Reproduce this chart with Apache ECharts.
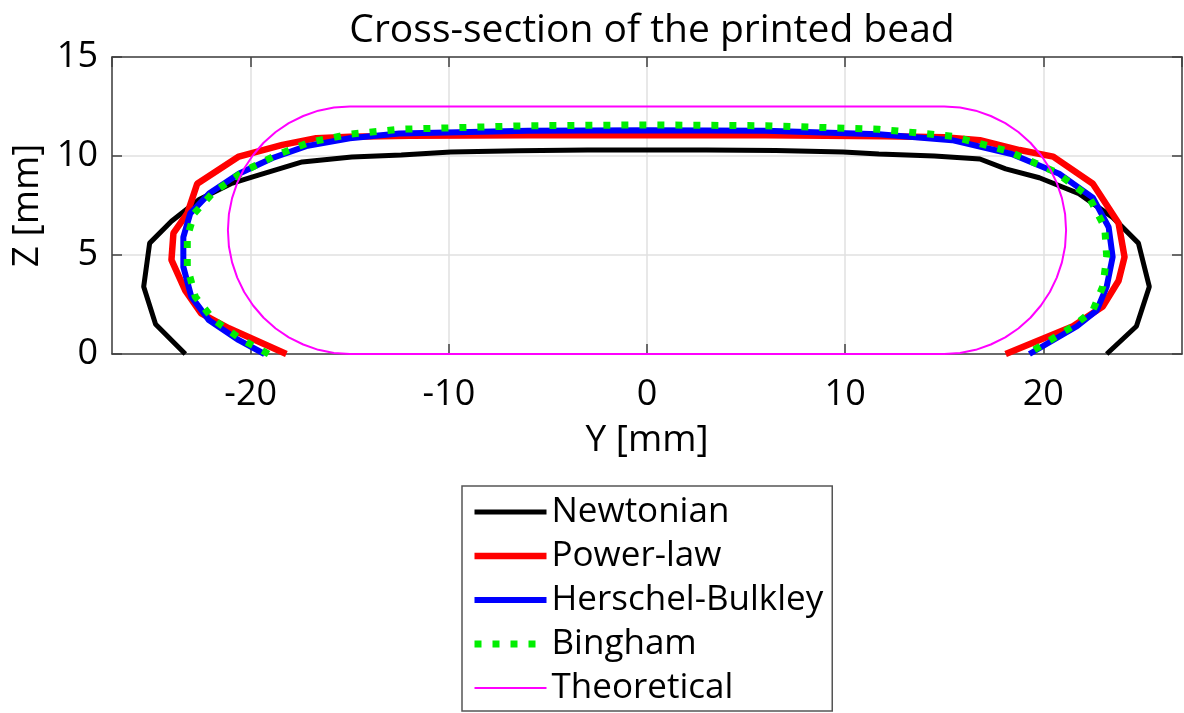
<!DOCTYPE html>
<html>
<head>
<meta charset="utf-8">
<script src="https://cdn.jsdelivr.net/npm/echarts@6/dist/echarts.min.js"></script>
<style>
  html, body { margin: 0; padding: 0; background: #fff; }
  #beadChart { width: 1184px; height: 713px; }
</style>
</head>
<body>
<div id="beadChart"></div>
<script>
// Y / Z coordinates (mm), left foot -> top -> right foot
var newtonianY = [-23.3, -24.8, -25.4, -25.1, -24.0, -22.6, -21.0, -19.9, -17.4, -14.9, -12.4, -9.9, -6.5, -3.0, 0.0, 3.0, 6.5, 9.9, 11.7, 14.5, 16.8, 18.1, 19.8, 21.8, 23.5, 24.8, 25.35, 24.7, 23.2];
var newtonianZ = [0.0, 1.5, 3.4, 5.6, 6.7, 7.8, 8.6, 8.95, 9.7, 9.95, 10.05, 10.2, 10.27, 10.3, 10.3, 10.3, 10.28, 10.2, 10.1, 10.0, 9.85, 9.35, 8.9, 8.1, 6.9, 5.6, 3.4, 1.4, 0.0];

var powerLawY = [-18.2, -21.1, -22.5, -23.3, -24.0, -23.9, -23.2, -22.7, -20.6, -18.4, -16.7, -15.0, -12.0, -6.0, 0.0, 6.0, 12.0, 15.0, 16.8, 18.8, 20.5, 22.5, 23.8, 24.1, 23.8, 23.0, 21.5, 18.1];
var powerLawZ = [0.0, 1.3, 2.05, 3.2, 4.75, 6.1, 7.1, 8.6, 9.97, 10.56, 10.9, 10.97, 11.02, 11.05, 11.06, 11.05, 11.0, 10.95, 10.8, 10.3, 9.97, 8.6, 6.6, 4.9, 3.7, 2.4, 1.4, 0.0];

var herschelY = [-19.3, -20.6, -22.1, -23.0, -23.4, -23.4, -23.05, -22.1, -20.6, -18.9, -17.2, -15.0, -12.5, -6.0, 0.0, 6.0, 11.7, 15.4, 18.4, 20.8, 22.5, 23.3, 23.5, 23.2, 22.7, 21.7, 19.3];
var herschelZ = [0.0, 0.7, 1.7, 2.9, 4.4, 5.9, 7.1, 8.1, 9.1, 9.9, 10.5, 10.9, 11.14, 11.28, 11.3, 11.28, 11.1, 10.8, 10.1, 9.1, 7.9, 6.4, 4.9, 3.4, 2.2, 1.4, 0.0];

var binghamY = [-19.1, -20.5, -21.9, -22.8, -23.2, -23.2, -22.85, -21.9, -20.4, -18.7, -17.0, -15.0, -12.5, -6.0, 0.0, 6.0, 11.7, 15.4, 18.2, 20.6, 22.3, 23.1, 23.2, 23.0, 22.5, 21.5, 19.2];
var binghamZ = [0.0, 0.75, 1.75, 2.9, 4.4, 5.9, 7.1, 8.15, 9.2, 10.05, 10.7, 11.1, 11.35, 11.53, 11.57, 11.53, 11.35, 11.0, 10.25, 9.2, 7.95, 6.4, 4.9, 3.4, 2.2, 1.4, 0.0];

// theoretical bead: flat bottom, rounded right end, flat top, rounded left end
var theoreticalY = [-15.0, 15.0,
    15.80, 16.59, 17.35, 18.08, 18.74, 19.35, 19.88, 20.33, 20.68, 20.94, 21.10, 21.15,
    21.10, 20.94, 20.68, 20.33, 19.88, 19.35, 18.74, 18.08, 17.35, 16.59, 15.80, 15.0,
    -15.0,
    -15.80, -16.59, -17.35, -18.08, -18.74, -19.35, -19.88, -20.33, -20.68, -20.94, -21.10, -21.15,
    -21.10, -20.94, -20.68, -20.33, -19.88, -19.35, -18.74, -18.08, -17.35, -16.59, -15.80, -15.0];
var theoreticalZ = [0.0, 0.0,
    0.05, 0.21, 0.48, 0.84, 1.29, 1.83, 2.45, 3.13, 3.86, 4.63, 5.43, 6.25,
    7.07, 7.87, 8.64, 9.37, 10.05, 10.67, 11.21, 11.66, 12.02, 12.29, 12.45, 12.5,
    12.5,
    12.45, 12.29, 12.02, 11.66, 11.21, 10.67, 10.05, 9.37, 8.64, 7.87, 7.07, 6.25,
    5.43, 4.63, 3.86, 3.13, 2.45, 1.83, 1.29, 0.84, 0.48, 0.21, 0.05, 0.0];

var seriesNames = ['Newtonian', 'Power-law', 'Herschel-Bulkley', 'Bingham', 'Theoretical'];
var yTicks = [0, 5, 10, 15];

var FONT = 'Open Sans';

function pairs(ys, zs) {
    var out = [];
    for (var i = 0; i < ys.length; i++) {
        out.push([ys[i], zs[i]]);
    }
    return out;
}

var lineStyles = [
    {color: '#000000', width: 5, type: 'solid'},
    {color: '#ff0000', width: 6.5, type: 'solid'},
    {color: '#0000ff', width: 6, type: 'solid'},
    {color: '#00ee00', width: 7, type: [7, 11]},
    {color: '#ff00ff', width: 2, type: 'solid'}
];
var shapes = [
    pairs(newtonianY, newtonianZ),
    pairs(powerLawY, powerLawZ),
    pairs(herschelY, herschelZ),
    pairs(binghamY, binghamZ),
    pairs(theoreticalY, theoreticalZ)
];

var seriesList = [];
var legendData = [];
for (var s = 0; s < seriesNames.length; s++) {
    seriesList.push({
        name: seriesNames[s],
        type: 'line',
        data: shapes[s],
        symbol: 'none',
        smooth: false,
        z: 2 + s,
        color: lineStyles[s].color,
        lineStyle: lineStyles[s],
        emphasis: {disabled: true}
    });
    // no marker in the legend, line only
    legendData.push({name: seriesNames[s], lineStyle: lineStyles[s], itemStyle: {opacity: 0}});
}

var axisLineStyle = {color: '#404040', width: 1.5};

var myChart = echarts.init(document.getElementById('beadChart'));
var option = {
    backgroundColor: '#fff',
    animation: false,
    title: {
        text: 'Cross-section of the printed bead',
        left: 647,
        textAlign: 'center',
        top: 6,
        textStyle: {fontFamily: FONT, fontSize: 39, fontWeight: 'normal', color: '#000'}
    },
    legend: {
        orient: 'vertical',
        left: 462,
        top: 486,
        padding: [4, 9, 1, 9],
        borderColor: '#555',
        borderWidth: 1.5,
        backgroundColor: '#fff',
        itemWidth: 72,
        itemHeight: 2,
        itemGap: 0,
        selectedMode: false,
        itemStyle: {opacity: 0},
        textStyle: {fontFamily: FONT, fontSize: 35, color: '#000', lineHeight: 44},
        data: legendData
    },
    grid: {left: 112, right: 2, top: 57, bottom: 359, containLabel: false},
    xAxis: [{
        type: 'value',
        min: -27,
        max: 27,
        splitNumber: 5,
        name: 'Y [mm]',
        nameLocation: 'middle',
        nameGap: 68,
        nameTextStyle: {fontFamily: FONT, fontSize: 37, color: '#000'},
        axisLine: {show: true, lineStyle: axisLineStyle},
        axisTick: {show: true, inside: true, length: 10, lineStyle: axisLineStyle},
        axisLabel: {fontFamily: FONT, fontSize: 36, color: '#000', margin: 23, showMinLabel: false, showMaxLabel: false},
        splitLine: {show: true, lineStyle: {color: '#e0e0e0', width: 1.5}}
    }, {
        type: 'value',
        position: 'top',
        min: -27,
        max: 27,
        splitNumber: 5,
        axisLine: {show: true, onZero: false, lineStyle: axisLineStyle},
        axisTick: {show: true, inside: true, length: 10, lineStyle: axisLineStyle},
        axisLabel: {show: false},
        splitLine: {show: false}
    }],
    yAxis: [{
        type: 'value',
        min: yTicks[0],
        max: yTicks[yTicks.length - 1],
        interval: 5,
        name: 'Z [mm]',
        nameLocation: 'middle',
        nameGap: 62,
        nameTextStyle: {fontFamily: FONT, fontSize: 37, color: '#000'},
        axisLine: {show: true, onZero: false, lineStyle: axisLineStyle},
        axisTick: {show: true, inside: true, length: 10, lineStyle: axisLineStyle},
        axisLabel: {fontFamily: FONT, fontSize: 36, color: '#000', margin: 14},
        splitLine: {show: true, lineStyle: {color: '#e0e0e0', width: 1.5}}
    }, {
        type: 'value',
        position: 'right',
        min: yTicks[0],
        max: yTicks[yTicks.length - 1],
        interval: 5,
        axisLine: {show: true, onZero: false, lineStyle: axisLineStyle},
        axisTick: {show: true, inside: true, length: 10, lineStyle: axisLineStyle},
        axisLabel: {show: false},
        splitLine: {show: false}
    }],
    series: seriesList
};

myChart.setOption(option);
</script>
</body>
</html>
